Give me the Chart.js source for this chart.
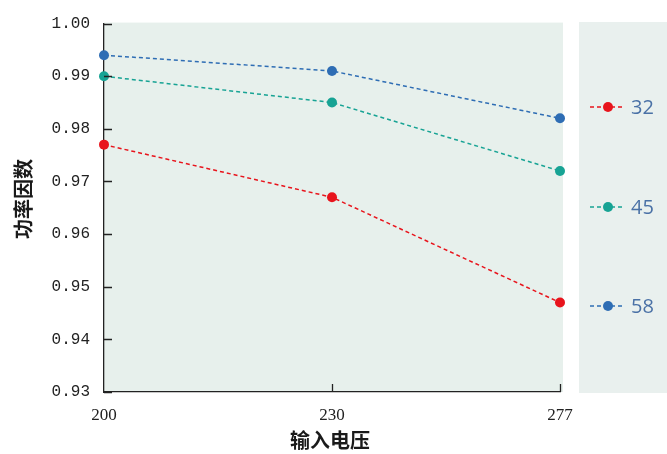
<!DOCTYPE html>
<html>
<head>
<meta charset="utf-8">
<script src="https://cdn.jsdelivr.net/npm/chart.js@4"></script>
<style>
  html, body { margin: 0; padding: 0; background: #fff; }
  #wrap { width: 667px; height: 454px; position: relative; }
</style>
</head>
<body>
<div id="wrap"><canvas id="pf"></canvas></div>
<script>
// data
const voltages = ['200', '230', '277'];
const seriesNames = ['32', '45', '58'];
const pf32 = [0.977, 0.967, 0.947];
const pf45 = [0.990, 0.985, 0.972];
const pf58 = [0.994, 0.991, 0.982];
const yTicks = [0.93, 0.94, 0.95, 0.96, 0.97, 0.98, 0.99, 1.00];
const colors = ['#e8141c', '#17a394', '#2e6db4'];

const ctx = document.querySelector('#pf');

// background panels, inward ticks, titles and the side legend
const decor = {
    id: 'decor',
    beforeDraw(chart) {
        const c = chart.ctx, a = chart.chartArea;
        c.save();
        c.fillStyle = '#e7f0ec';
        c.fillRect(a.left, a.top - 1, a.right - a.left + 3, a.bottom - a.top + 1);
        c.fillStyle = '#e9f0ee';
        c.fillRect(579, 22, 88, 371);
        c.restore();
    },
    afterDraw(chart) {
        const c = chart.ctx, a = chart.chartArea;
        const x = chart.scales.x, y = chart.scales.y;
        c.save();
        c.strokeStyle = '#222';
        c.lineWidth = 1.3;
        c.beginPath();
        yTicks.forEach(v => {
            const py = Math.round(y.getPixelForValue(v)) + 0.5;
            c.moveTo(a.left, py);
            c.lineTo(a.left + 8, py);
        });
        voltages.forEach((v, i) => {
            if (i == 0) return;
            const px = Math.round(x.getPixelForValue(i)) + 0.5;
            c.moveTo(px, a.bottom);
            c.lineTo(px, a.bottom - 8);
        });
        c.stroke();

        // axis titles
        c.fillStyle = '#1a1a1a';
        c.font = 'bold 20px "Noto Sans CJK SC"';
        c.textAlign = 'center';
        c.textBaseline = 'middle';
        c.fillText('输入电压', (a.left + a.right) / 2 - 2, 440);
        c.save();
        c.translate(23, 199);
        c.rotate(-Math.PI / 2);
        c.font = 'bold 20px "Noto Sans CJK SC"';
        c.fillText('功率因数', 0, 0);
        c.restore();

        // legend
        const ly = [107, 207, 306];
        chart.data.datasets.forEach((ds, i) => {
            c.strokeStyle = ds.borderColor;
            c.lineWidth = 1.5;
            c.setLineDash([4, 3]);
            c.beginPath();
            c.moveTo(590, ly[i]);
            c.lineTo(623, ly[i]);
            c.stroke();
            c.setLineDash([]);
            c.fillStyle = ds.borderColor;
            c.beginPath();
            c.arc(608, ly[i], 5, 0, Math.PI * 2);
            c.fill();
            c.fillStyle = '#4a71a6';
            c.font = '20px "Open Sans"';
            c.textAlign = 'left';
            c.fillText(ds.label, 631, ly[i] + 1);
        });
        c.restore();
    }
};

const lineSet = (label, data, color) => ({
    label: label,
    data: data,
    borderColor: color,
    backgroundColor: color,
    borderWidth: 1.5,
    borderDash: [4, 3],
    pointRadius: 5,
    pointHoverRadius: 5,
    pointBorderWidth: 0,
    tension: 0
});

let pfChart = new Chart(ctx, {
    type: 'line',
    data: {
        labels: voltages,
        datasets: [
            lineSet(seriesNames[0], pf32, colors[0]),
            lineSet(seriesNames[1], pf45, colors[1]),
            lineSet(seriesNames[2], pf58, colors[2])
        ]
    },
    options: {
        animation: false,
        responsive: true,
        maintainAspectRatio: false,
        layout: { padding: { left: 0, right: 107, top: 21, bottom: 0 } },
        plugins: { legend: { display: false }, tooltip: { enabled: false } },
        scales: {
            x: {
                offset: false,
                grid: { drawOnChartArea: false, drawTicks: false },
                border: { color: '#222', width: 1.3 },
                ticks: {
                    color: '#222',
                    padding: 13,
                    maxRotation: 0,
                    font: { family: '"Liberation Serif"', size: 17 }
                },
                afterFit(s) { s.height = 62; }
            },
            y: {
                min: 0.93,
                max: 1.00,
                grid: { drawOnChartArea: false, drawTicks: false },
                border: { color: '#222', width: 1.3 },
                afterBuildTicks(s) { s.ticks = yTicks.map(v => ({ value: v })); },
                ticks: {
                    color: '#222',
                    padding: 14,
                    font: { family: '"Liberation Mono"', size: 16 },
                    callback: v => v.toFixed(2)
                },
                afterFit(s) { s.width = 104; }
            }
        }
    },
    plugins: [decor]
});
</script>
</body>
</html>
